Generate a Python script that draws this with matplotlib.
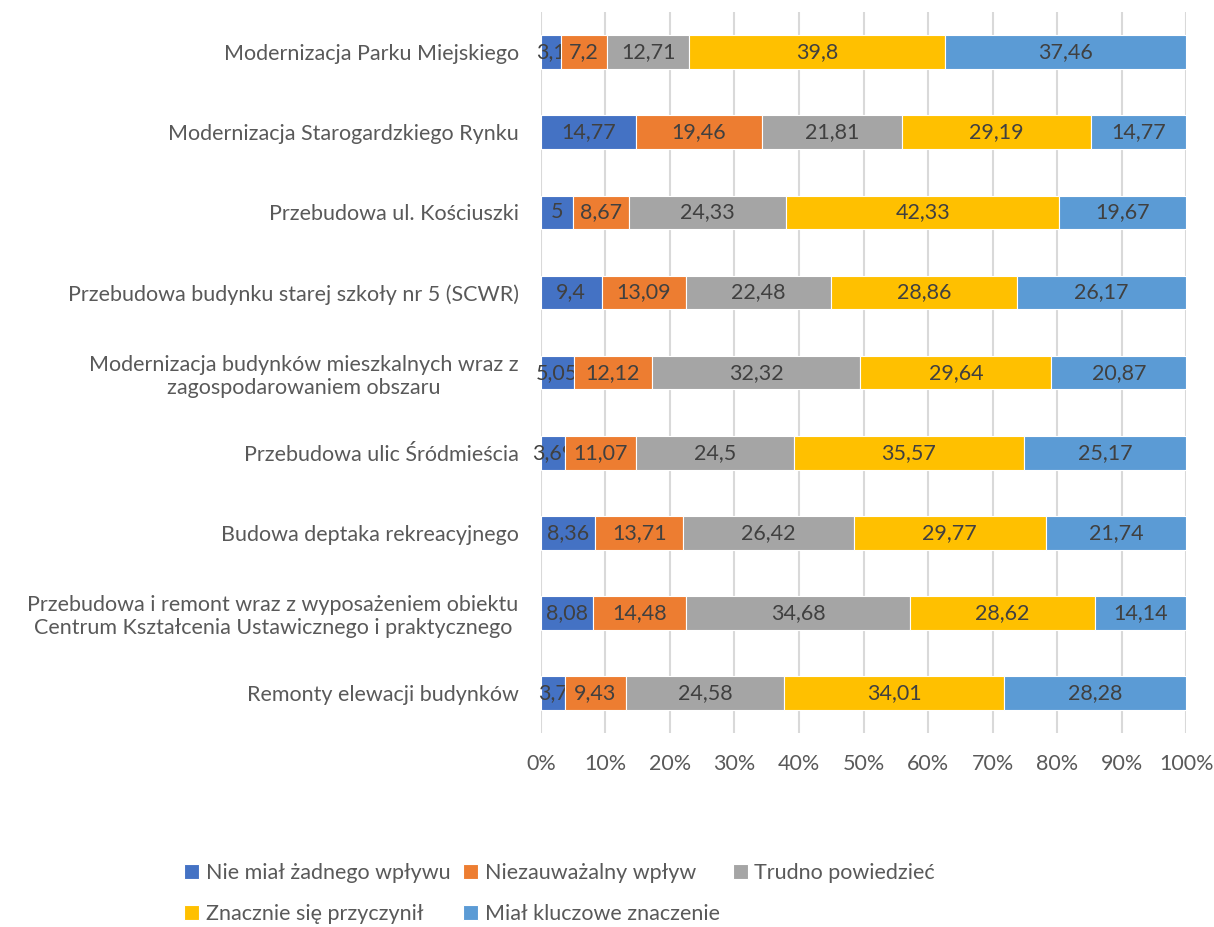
import matplotlib.pyplot as plt
import numpy as np

plt.rcParams['font.family'] = ['Lato', 'DejaVu Sans']

categories = [
    'Modernizacja Parku Miejskiego',
    'Modernizacja Starogardzkiego Rynku',
    'Przebudowa ul. Kościuszki',
    'Przebudowa budynku starej szkoły nr 5 (SCWR)',
    'Modernizacja budynków mieszkalnych wraz z\nzagospodarowaniem obszaru',
    'Przebudowa ulic Śródmieścia',
    'Budowa deptaka rekreacyjnego',
    'Przebudowa i remont wraz z wyposażeniem obiektu\nCentrum Kształcenia Ustawicznego i praktycznego',
    'Remonty elewacji budynków',
]

series_names = ['Nie miał żadnego wpływu', 'Niezauważalny wpływ', 'Trudno powiedzieć',
                'Znacznie się przyczynił', 'Miał kluczowe znaczenie']

nie_mial = [3.1, 14.77, 5, 9.4, 5.05, 3.69, 8.36, 8.08, 3.7]
niezauwazalny = [7.2, 19.46, 8.67, 13.09, 12.12, 11.07, 13.71, 14.48, 9.43]
trudno = [12.71, 21.81, 24.33, 22.48, 32.32, 24.5, 26.42, 34.68, 24.58]
znacznie = [39.8, 29.19, 42.33, 28.86, 29.64, 35.57, 29.77, 28.62, 34.01]
kluczowe = [37.46, 14.77, 19.67, 26.17, 20.87, 25.17, 21.74, 14.14, 28.28]

colors = ['#4472C4', '#ED7D31', '#A5A5A5', '#FFC000', '#5B9BD5']
fs = 15.5

data = np.array([nie_mial, niezauwazalny, trudno, znacznie, kluczowe])
# 100% stacked: normalise each row
shares = data / data.sum(axis=0) * 100

fig = plt.figure(figsize=(12.14, 9.27), dpi=100)
ax = fig.add_axes([0.4456, 0.209, 0.9770 - 0.4456, 0.987 - 0.209])

y = np.arange(len(categories))
left = np.zeros(len(categories))
handles = []
for i, name in enumerate(series_names):
    bars = ax.barh(y, shares[i], 0.42, left=left, color=colors[i], label=name,
                   edgecolor='white', linewidth=0.8, zorder=3)
    handles.append(bars)
    labels = [f'{v:g}'.replace('.', ',') for v in data[i]]
    ax.bar_label(bars, labels=labels, label_type='center', color='#404040', fontsize=fs)
    left += shares[i]

ax.set_xlim(0, 100)
ax.set_ylim(-0.5, len(categories) - 0.5)
ax.invert_yaxis()
ax.set_xticks(np.arange(0, 101, 10))
ax.set_xticklabels([f'{t}%' for t in range(0, 101, 10)])
ax.set_yticks(y)
ax.set_yticklabels(categories, multialignment='center')
ax.tick_params(axis='both', length=0, labelsize=fs, labelcolor='#595959')
ax.tick_params(axis='x', pad=15)
ax.tick_params(axis='y', pad=16)
ax.grid(axis='x', color='#D9D9D9', linewidth=1.5, zorder=0)
for s in ax.spines.values():
    s.set_visible(False)

# legend filled row by row like Excel
order = [0, 3, 1, 4, 2]
fig.legend([handles[k] for k in order], [series_names[k] for k in order],
           loc='center', bbox_to_anchor=(0.461, 0.036), ncol=3, frameon=False,
           fontsize=fs, labelcolor='#595959', handlelength=0.7, handleheight=0.7,
           handletextpad=0.3, columnspacing=0.6, labelspacing=0.95)

fig.savefig('out.png', dpi=100)
